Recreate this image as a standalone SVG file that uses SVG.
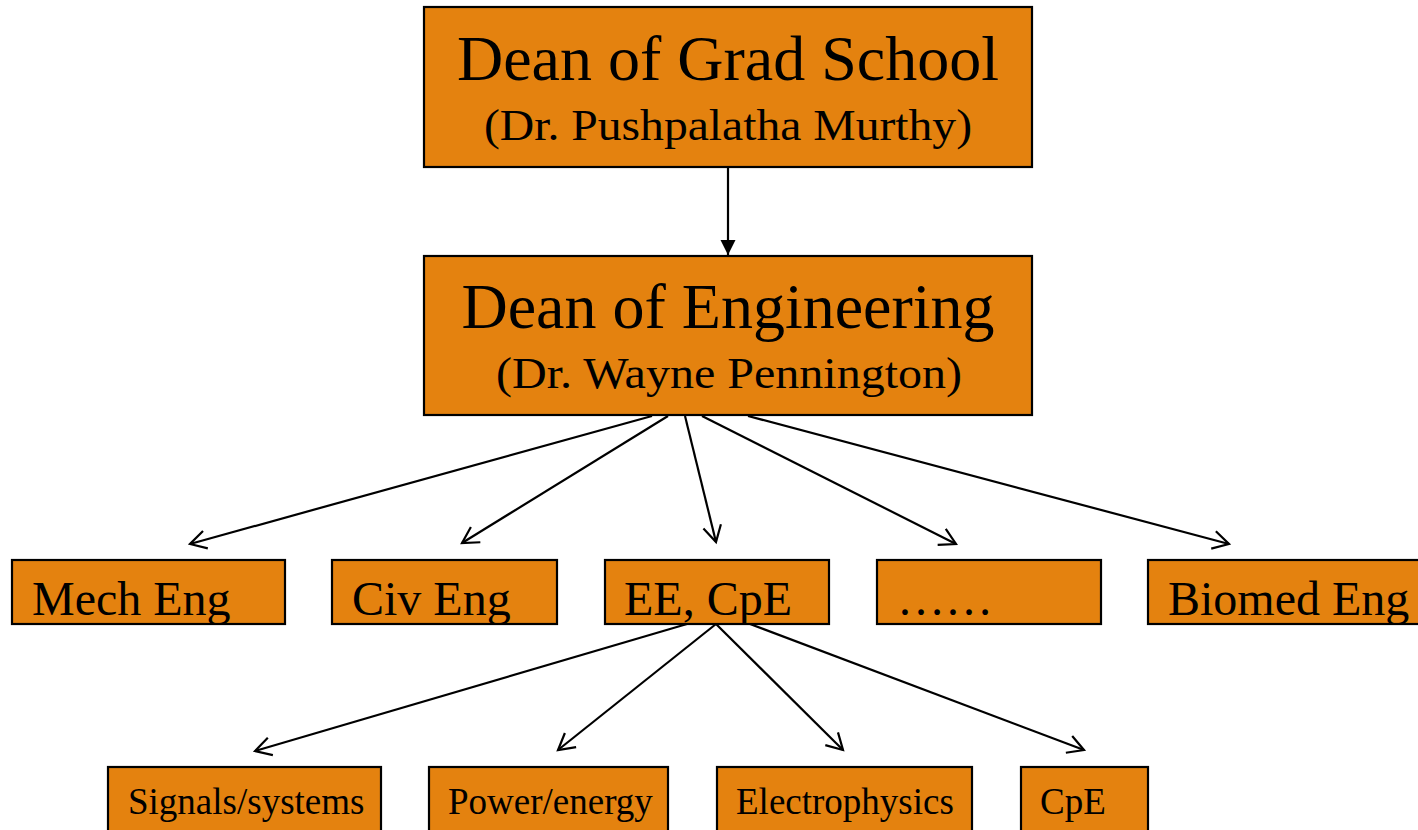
<svg xmlns="http://www.w3.org/2000/svg" width="1418" height="830" viewBox="0 0 1418 830">
  <style>
    .box { fill: #E4820F; stroke: #000; stroke-width: 2.2; }
    .t { font-family: "Liberation Serif", "Times New Roman", serif; fill: #000; }
    .big { font-size: 64px; text-anchor: middle; }
    .sub { font-size: 45px; text-anchor: middle; }
    .mid { font-size: 48px; }
    .small { font-size: 37px; }
    .edge { stroke: #000; stroke-width: 2.2; fill: none; }
  </style>
  <defs>
    <marker id="open" markerUnits="userSpaceOnUse" viewBox="-20 -12 24 24" refX="0" refY="0" markerWidth="24" markerHeight="24" orient="auto" overflow="visible">
      <path d="M-16,-9 L0,0 L-16,9" fill="none" stroke="#000" stroke-width="2.2"/>
    </marker>
    <marker id="solid" markerUnits="userSpaceOnUse" viewBox="-20 -12 24 24" refX="0" refY="0" markerWidth="24" markerHeight="24" orient="auto" overflow="visible">
      <path d="M-15,-7.5 L0,0 L-15,7.5 Z" fill="#000"/>
    </marker>
  </defs>

  <rect width="1418" height="830" fill="#fff"/>

  <g id="connectors">
    <line class="edge" x1="728" y1="167" x2="728" y2="255" marker-end="url(#solid)"/>
    <line class="edge" x1="652" y1="416" x2="190" y2="544" marker-end="url(#open)"/>
    <line class="edge" x1="668" y1="416" x2="462" y2="543" marker-end="url(#open)"/>
    <line class="edge" x1="685" y1="416" x2="716" y2="542" marker-end="url(#open)"/>
    <line class="edge" x1="702" y1="416" x2="956" y2="544" marker-end="url(#open)"/>
    <line class="edge" x1="748" y1="416" x2="1229" y2="544" marker-end="url(#open)"/>
    <line class="edge" x1="687" y1="624" x2="255" y2="751" marker-end="url(#open)"/>
    <line class="edge" x1="716" y1="624" x2="558" y2="750" marker-end="url(#open)"/>
    <line class="edge" x1="716" y1="624" x2="843" y2="750" marker-end="url(#open)"/>
    <line class="edge" x1="750" y1="624" x2="1084" y2="750" marker-end="url(#open)"/>
  </g>

  <g id="dean-grad">
    <rect class="box" x="424" y="7" width="608" height="160"/>
    <text class="t big" x="728" y="80">Dean of Grad School</text>
    <text class="t sub" x="728" y="140" textLength="488" lengthAdjust="spacingAndGlyphs">(Dr. Pushpalatha Murthy)</text>
  </g>

  <g id="dean-eng">
    <rect class="box" x="424" y="256" width="608" height="159"/>
    <text class="t big" x="728" y="328">Dean of Engineering</text>
    <text class="t sub" x="729" y="388" textLength="466" lengthAdjust="spacingAndGlyphs">(Dr. Wayne Pennington)</text>
  </g>

  <g id="mech">
    <rect class="box" x="12" y="560" width="273" height="64"/>
    <text class="t mid" x="32" y="615">Mech Eng</text>
  </g>
  <g id="civ">
    <rect class="box" x="332" y="560" width="225" height="64"/>
    <text class="t mid" x="352" y="615">Civ Eng</text>
  </g>
  <g id="ee">
    <rect class="box" x="605" y="560" width="224" height="64"/>
    <text class="t mid" x="624" y="615">EE, CpE</text>
  </g>
  <g id="more">
    <rect class="box" x="877" y="560" width="224" height="64"/>
    <text class="t mid" x="897" y="615">……</text>
  </g>
  <g id="biomed">
    <rect class="box" x="1148" y="560" width="273" height="64"/>
    <text class="t mid" x="1168" y="615">Biomed Eng</text>
  </g>

  <g id="signals">
    <rect class="box" x="108" y="767" width="273" height="80"/>
    <text class="t small" x="128" y="814">Signals/systems</text>
  </g>
  <g id="power">
    <rect class="box" x="429" y="767" width="239" height="80"/>
    <text class="t small" x="448" y="814">Power/energy</text>
  </g>
  <g id="electro">
    <rect class="box" x="717" y="767" width="255" height="80"/>
    <text class="t small" x="736" y="814">Electrophysics</text>
  </g>
  <g id="cpe">
    <rect class="box" x="1021" y="767" width="127" height="80"/>
    <text class="t small" x="1040" y="814">CpE</text>
  </g>
</svg>
